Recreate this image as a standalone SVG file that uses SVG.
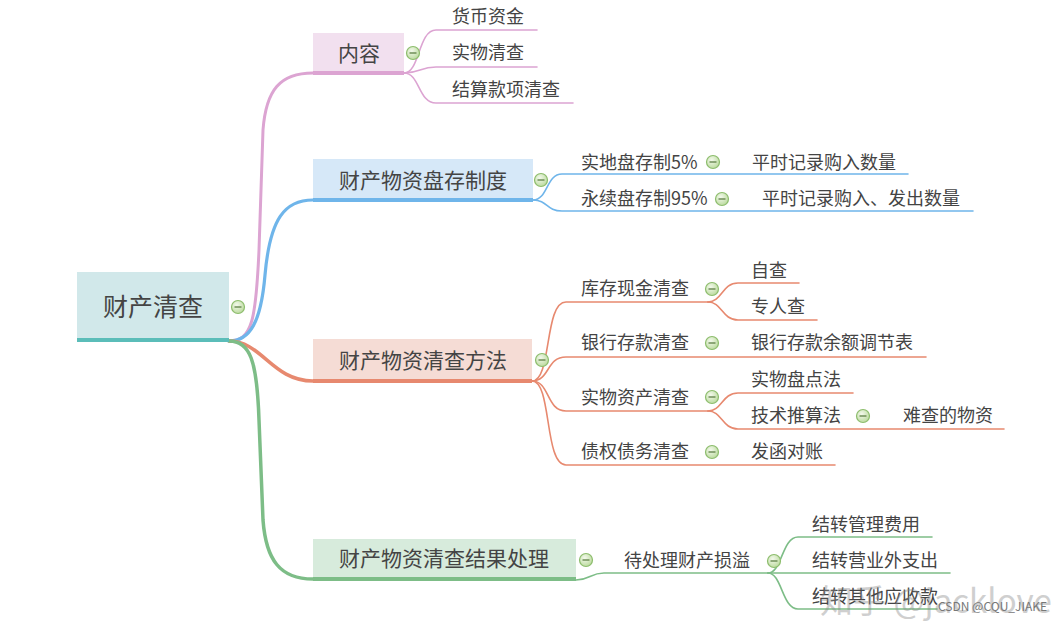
<svg xmlns="http://www.w3.org/2000/svg" width="1061" height="624" viewBox="0 0 1061 624">
<defs>
<radialGradient id="cg" cx="0.4" cy="0.35" r="0.7">
<stop offset="0" stop-color="#f3f9ec"/>
<stop offset="1" stop-color="#b9d99b"/>
</radialGradient>
<g id="col">
<circle r="6.5" fill="url(#cg)" stroke="#8dbd6d" stroke-width="1.2"/>
<line x1="-3.5" y1="0" x2="3.5" y2="0" stroke="#5d7f45" stroke-width="1.3"/>
</g>
</defs>
<style>
text{font-family:"Noto Sans CJK SC","Noto Sans",sans-serif;fill:#444}
.t0{font-size:25px;text-anchor:middle}
.t1{font-size:21px;text-anchor:middle}
.t2{font-size:18px}
.c{fill:none;stroke-linecap:round}
.pk{stroke:#dca4d2}
.bl{stroke:#6fb5ea}
.or{stroke:#e7896f}
.gr{stroke:#7dbd87}
.sub{stroke-width:1.6}
.wm{fill:#8a8a8a;opacity:0.4}
</style>
<rect width="1061" height="624" fill="#fff"/>

<g id="connectors">
<path class="c pk" stroke-width="3" d="M229,341 C252,341 256,320 259,250 L263,130 C266,90 280,73 313,73"/>
<path class="c bl" stroke-width="3.2" d="M229,341 C250,341 261,322 265,275 C270,218 285,200 313,200"/>
<path class="c or" stroke-width="3.5" d="M229,341 C262,341 272,381 313,381"/>
<path class="c gr" stroke-width="3.5" d="M229,341 C250,341 257,360 259,420 L263,520 C266,560 280,579 313,579"/>

<path class="c pk sub" d="M404,73 C420,73 418,30 436,30 L537,30"/>
<path class="c pk sub" d="M404,73 C420,73 420,67 436,67 L537,67"/>
<path class="c pk sub" d="M404,73 C420,73 418,103 436,103 L573,103"/>

<path class="c bl sub" d="M533,200 C548,200 546,174 562,174 L908,174"/>
<path class="c bl sub" d="M533,200 C548,200 546,211 562,211 L973,211"/>

<path class="c or sub" d="M532,381 C552,381 544,302 566,302 L708,302"/>
<path class="c or sub" d="M532,381 C550,381 546,357 566,357 L926,357"/>
<path class="c or sub" d="M532,381 C550,381 546,411 566,411 L708,411"/>
<path class="c or sub" d="M532,381 C552,381 544,465 566,465 L835,465"/>
<path class="c or sub" d="M708,302 C722,302 722,283 738,283 L799,283"/>
<path class="c or sub" d="M708,302 C722,302 722,320 738,320 L817,320"/>
<path class="c or sub" d="M708,411 C722,411 722,393 738,393 L853,393"/>
<path class="c or sub" d="M708,411 C722,411 722,429 738,429 L1004,429"/>

<path class="c gr sub" d="M576,580 C590,580 590,573 604,573 L768,573"/>
<path class="c gr sub" d="M768,573 C782,573 782,537 798,537 L932,537"/>
<path class="c gr sub" d="M768,573 L950,573"/>
<path class="c gr sub" d="M768,573 C782,573 782,609 798,609 L937,609"/>
</g>

<g id="root">
<rect x="77" y="272" width="152" height="68" fill="#d1e8ea"/>
<rect x="77" y="338" width="152" height="4" fill="#5bbdb9"/>
<text class="t0" x="153" y="316">财产清查</text>
<use href="#col" x="238" y="307"/>
</g>

<g id="n-neirong">
<rect x="313" y="33" width="91" height="40" fill="#f2e0ef"/>
<rect x="313" y="71" width="91" height="4" fill="#dca4d2"/>
<text class="t1" x="359" y="61">内容</text>
<use href="#col" x="413" y="53"/>
</g>
<g id="n-huobi"><text class="t2" x="452" y="23">货币资金</text></g>
<g id="n-shiwu"><text class="t2" x="452" y="59">实物清查</text></g>
<g id="n-jiesuan"><text class="t2" x="452" y="96">结算款项清查</text></g>

<g id="n-pancun">
<rect x="313" y="159" width="220" height="41" fill="#d6e8f8"/>
<rect x="313" y="198" width="220" height="4" fill="#6fb5ea"/>
<text class="t1" x="423" y="188">财产物资盘存制度</text>
<use href="#col" x="541" y="180"/>
</g>
<g id="n-shidi"><text class="t2" x="581" y="169">实地盘存制5%</text><use href="#col" x="713" y="162"/></g>
<g id="n-shidi-c"><text class="t2" x="752" y="169">平时记录购入数量</text></g>
<g id="n-yongxu"><text class="t2" x="581" y="205">永续盘存制95%</text><use href="#col" x="722" y="199"/></g>
<g id="n-yongxu-c"><text class="t2" x="762" y="205">平时记录购入、发出数量</text></g>

<g id="n-fangfa">
<rect x="313" y="339" width="219" height="42" fill="#f5dcd5"/>
<rect x="313" y="379" width="219" height="4" fill="#e7896f"/>
<text class="t1" x="423" y="368">财产物资清查方法</text>
<use href="#col" x="542" y="360"/>
</g>
<g id="n-kucun"><text class="t2" x="581" y="295">库存现金清查</text><use href="#col" x="712" y="289"/></g>
<g id="n-zicha"><text class="t2" x="751" y="277">自查</text></g>
<g id="n-zhuanren"><text class="t2" x="751" y="313">专人查</text></g>
<g id="n-yinhang"><text class="t2" x="581" y="349">银行存款清查</text><use href="#col" x="712" y="343"/></g>
<g id="n-yuetiao"><text class="t2" x="751" y="349">银行存款余额调节表</text></g>
<g id="n-shiwuzc"><text class="t2" x="581" y="404">实物资产清查</text><use href="#col" x="712" y="397"/></g>
<g id="n-pandian"><text class="t2" x="751" y="386">实物盘点法</text></g>
<g id="n-tuisuan"><text class="t2" x="751" y="422">技术推算法</text><use href="#col" x="863" y="416"/></g>
<g id="n-nancha"><text class="t2" x="903" y="422">难查的物资</text></g>
<g id="n-zhaiquan"><text class="t2" x="581" y="458">债权债务清查</text><use href="#col" x="712" y="452"/></g>
<g id="n-fahan"><text class="t2" x="751" y="458">发函对账</text></g>

<g id="n-jieguo">
<rect x="313" y="539" width="263" height="40" fill="#d7ebdc"/>
<rect x="313" y="577" width="263" height="4" fill="#7dbd87"/>
<text class="t1" x="444" y="566">财产物资清查结果处理</text>
<use href="#col" x="586" y="560"/>
</g>
<g id="n-daichuli"><text class="t2" x="624" y="567">待处理财产损溢</text><use href="#col" x="774" y="561"/></g>
<g id="n-guanli"><text class="t2" x="812" y="531">结转管理费用</text></g>
<g id="n-yingye"><text class="t2" x="812" y="567">结转营业外支出</text></g>
<g id="n-qita"><text class="t2" x="812" y="603">结转其他应收款</text></g>

<text class="wm" x="820" y="613" style="font-size:33px">知乎 @jacklove</text>
<text x="938" y="611" style="font-size:12px;fill:#777">CSDN @CQU_JIAKE</text>
</svg>
